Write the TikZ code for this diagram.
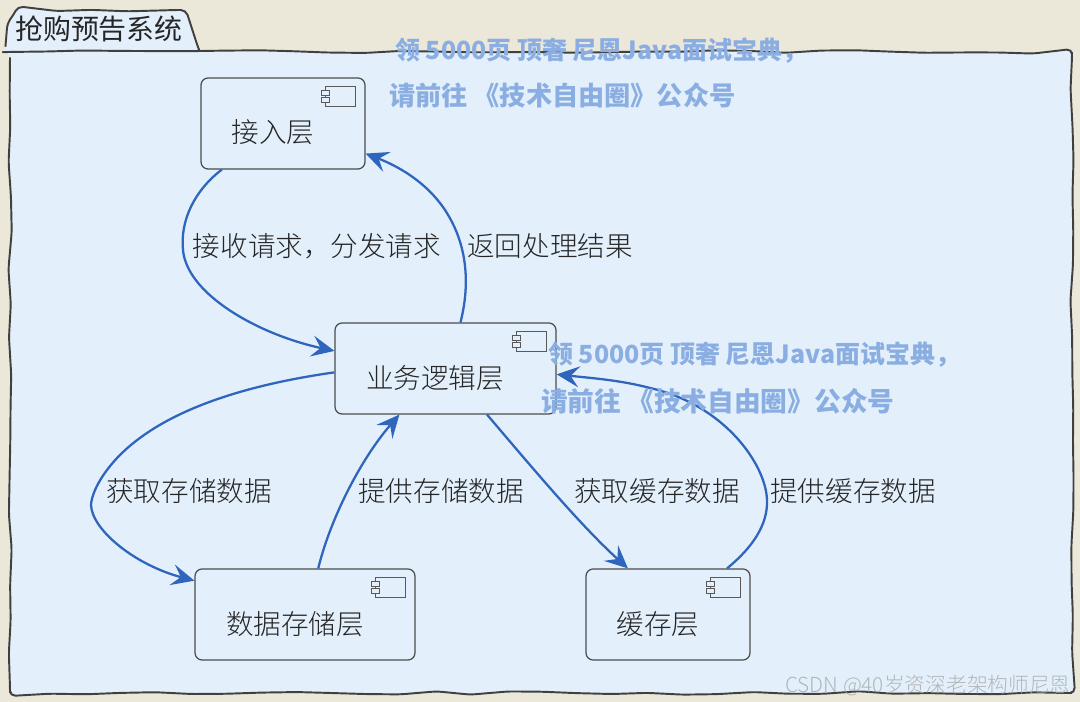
\documentclass[tikz,border=0pt]{standalone}
\usepackage{fontspec}
\setmainfont{Noto Sans CJK SC}
\newfontface\light{Noto Sans CJK SC Light}
\usetikzlibrary{arrows.meta,positioning,decorations.pathmorphing}

\definecolor{paper}{HTML}{ECE8D9}
\definecolor{pane}{HTML}{E3F0FC}
\definecolor{flowblue}{HTML}{2F65BC}
\definecolor{markblue}{HTML}{8AAEE2}

\tikzset{
  rough/.style={decorate,decoration={random steps,segment length=20pt,amplitude=1pt},rounded corners=3pt},
  frame/.style={rough,draw=black!75,line width=1.1pt,fill=pane},
  comp/.style={draw=black!70,line width=0.7pt,rounded corners=4pt,inner sep=0pt,minimum height=1.82cm},
  complabel/.style={font=\fontsize{15.7pt}{18pt}\selectfont\light,text=black!85},
  flowlabel/.style={font=\fontsize{15.7pt}{18pt}\selectfont\light,text=black!85},
  markline/.style={anchor=west,font=\fontsize{14.9pt}{18pt}\selectfont\bfseries,text=markblue},
  flow/.style={draw=flowblue,line width=1.3pt,-{Stealth[length=13pt,width=12pt,inset=5pt]}},
  compicon/.pic={
    \draw[black!65,line width=0.5pt] (-40,9) rectangle (-10,29);
    \draw[black!65,line width=0.5pt,fill=pane] (-44,13) rectangle (-36,18);
    \draw[black!65,line width=0.5pt,fill=pane] (-44,20) rectangle (-36,25);
  }
}

\begin{document}
\begin{tikzpicture}[x=0.02cm,y=-0.02cm]
  \pgfmathsetseed{42}
  \useasboundingbox (0,0) rectangle (1080,702);
  \fill[paper] (0,0) rectangle (1080,702);

  % package frame and tab
  \draw[frame] (5,52) -- (7,28) -- (16,10) -- (182,10) -- (200,52) -- cycle;
  \draw[frame] (10,52) rectangle (1072,693);
  \node[font=\fontsize{15.9pt}{18pt}\selectfont,text=black!85] (title) at (99,29) {抢购预告系统};

  % components
  \node[comp,minimum width=3.28cm] (access)   at (283,123.5) {};
  \node[comp,minimum width=4.42cm] (business) at (445.5,368.5) {};
  \node[comp,minimum width=4.40cm] (store)    at (305,614.5) {};
  \node[comp,minimum width=3.28cm] (cache)    at (668,614.5) {};

  \node[complabel] (accesstext)   at (273,132) {接入层};
  \node[complabel] (businesstext) at (435,378) {业务逻辑层};
  \node[complabel] (storetext)    at (295,624) {数据存储层};
  \node[complabel] (cachetext)    at (658,624) {缓存层};

  \path (access.north east)   pic {compicon}
        (business.north east) pic {compicon}
        (store.north east)    pic {compicon}
        (cache.north east)    pic {compicon};

  % connectors
  \draw[flow] (access.217) .. controls (195,190) and (180,220) .. (183,250)
              .. controls (187,295) and (260,335) .. (business.171);
  \draw[flow] (business.72) .. controls (470,285) and (468,245) .. (445,210)
              .. controls (425,180) and (395,165) .. (access.-20);
  \draw[flow] (business.182) .. controls (245,385) and (165,410) .. (120,455)
              .. controls (105,470) and (92,490) .. (91,505)
              .. controls (92,530) and (135,565) .. (store.163);
  \draw[flow] (store.74) .. controls (330,520) and (360,460) .. (business.225);
  \draw[flow] (business.312) .. controls (530,465) and (580,525) .. (cache.131);
  \draw[flow] (cache.38) .. controls (752,548) and (768,525) .. (767,500)
              .. controls (766,465) and (725,405) .. (650,388)
              .. controls (620,380) and (590,378) .. (business.-3);

  % connector labels
  \node[flowlabel] (askfor)   at (317,246) {接收请求，分发请求};
  \node[flowlabel] (giveback) at (550,246) {返回处理结果};
  \node[flowlabel] (getstore) at (189,491) {获取存储数据};
  \node[flowlabel] (putstore) at (441,491) {提供存储数据};
  \node[flowlabel] (getcache) at (657,491) {获取缓存数据};
  \node[flowlabel] (putcache) at (853,491) {提供缓存数据};

  % overprinted marks
  \node[markline,font=\fontsize{14.2pt}{18pt}\selectfont\bfseries] (markA) at (389,51)  {领 5000页 顶奢 尼恩Java面试宝典，};
  \node[markline] (markB) at (383,95)  {请前往 《技术自由圈》公众号};
  \node[markline,font=\fontsize{14.2pt}{18pt}\selectfont\bfseries] (markC) at (542,355) {领 5000页 顶奢 尼恩Java面试宝典，};
  \node[markline,font=\fontsize{15.2pt}{18pt}\selectfont\bfseries] (markD) at (535,401) {请前往 《技术自由圈》公众号};
  \node[font=\fontsize{11.8pt}{14pt}\selectfont\light,text=black!35,opacity=0.8] (stamp) at (928,685) {CSDN @40岁资深老架构师尼恩};
\end{tikzpicture}
\end{document}
